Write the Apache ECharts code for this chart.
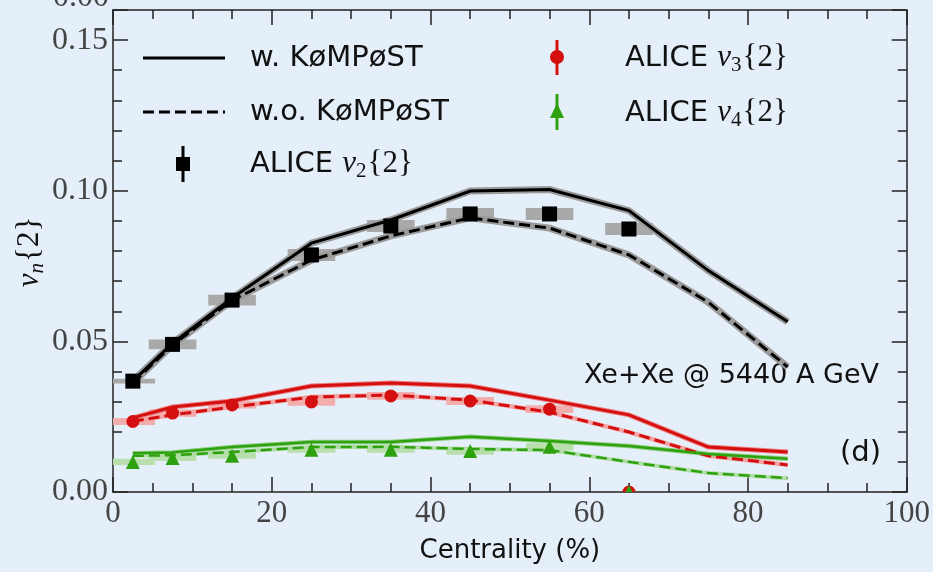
<!DOCTYPE html>
<html>
<head>
<meta charset="utf-8">
<script src="https://cdn.jsdelivr.net/npm/echarts@6/dist/echarts.min.js"></script>
<style>
html,body{margin:0;padding:0;background:#e5effa;}
#chart{width:933px;height:572px;}
</style>
</head>
<body>
<div id="chart"></div>
<script>
// ---- data ----
const centrality = [2.5, 7.5, 15, 25, 35, 45, 55, 65, 75, 85];
const v2With    = [0.0368, 0.0494, 0.0644, 0.0826, 0.0903, 0.0999, 0.1004, 0.0934, 0.0735, 0.0565];
const v2Without = [0.0362, 0.0488, 0.0636, 0.0770, 0.0850, 0.0910, 0.0876, 0.0787, 0.0630, 0.0415];
const v3With    = [0.0246, 0.0282, 0.0302, 0.0352, 0.0362, 0.0352, 0.0305, 0.0256, 0.0149, 0.0133];
const v3Without = [0.0235, 0.0256, 0.0282, 0.0315, 0.0322, 0.0305, 0.0265, 0.0199, 0.0120, 0.0090];
const v4With    = [0.0129, 0.0131, 0.0149, 0.0166, 0.0166, 0.0183, 0.0169, 0.0153, 0.0126, 0.0110];
const v4Without = [0.0120, 0.0122, 0.0133, 0.0149, 0.0150, 0.0143, 0.0139, 0.0100, 0.0063, 0.0046];

const aliceX  = [2.5, 7.5, 15, 25, 35, 45, 55, 65];
const aliceV2 = [0.0368, 0.0490, 0.0637, 0.0787, 0.0883, 0.0923, 0.0923, 0.0873];
const aliceV3 = [0.0234, 0.0262, 0.0289, 0.0299, 0.0319, 0.0302, 0.0275, 0.0];
const aliceV4 = [0.0100, 0.0113, 0.0120, 0.0140, 0.0140, 0.0136, 0.0150, 0.0];
const sysHalfX  = [2.8, 3, 3, 3, 3, 3, 3, 3];
const sysV2 = [0.0008, 0.0016, 0.0018, 0.0020, 0.0020, 0.0020, 0.0020, 0.0020];
const sysV3 = [0.0012, 0.0012, 0.0012, 0.0013, 0.0013, 0.0013, 0.0013, 0.0];
const sysV4 = [0.0010, 0.0010, 0.0010, 0.0010, 0.0010, 0.0012, 0.0012, 0.0];

const xTicks = [0, 20, 40, 60, 80, 100];
const yTicks = [0.00, 0.05, 0.10, 0.15];

// ---- styling ----
const BLACK = '#000000', RED = '#d40f0f', GREEN = '#2ea10f';
const serif = 'Liberation Serif';
const sans = 'DejaVu Sans';

function pairs(xs, ys){ return xs.map((x,i)=>[x, ys[i]]); }

function lineSeries(ys, color, width, dashed, z){
  return {type:'line', data:pairs(centrality, ys), symbol:'none', z:z, silent:true,
    lineStyle:{color:color, width:width, type: dashed ? [11,5] : 'solid', cap:'butt', join:'miter'}};
}

function boxSeries(ys, hh, color){
  return {type:'custom', z:1, silent:true,
    data: aliceX.map((x,i)=>[x, ys[i], sysHalfX[i], hh[i]]),
    renderItem: function(params, api){
      const x = api.value(0), y = api.value(1), hw = api.value(2), h = api.value(3);
      if (h <= 0) return null;
      const p1 = api.coord([Math.max(0, x-hw), y+h]);
      const p2 = api.coord([x+hw, y-h]);
      return {type:'rect', shape:{x:p1[0], y:p1[1], width:p2[0]-p1[0], height:p2[1]-p1[1]}, style:{fill:color}};
    }};
}

const halfCircle = 'path://M0,10 A10,10 0 0 1 20,10 Z';
const halfTri = 'path://M0,10 L5,0 L10,10 Z';

function markerSeries(ys, symbol, size, color, z){
  return {type:'scatter', z:z, silent:true, clip:false,
    data: aliceX.map((x,i)=>{
      if (ys[i] === 0) {
        return symbol === 'circle'
          ? {value:[x, ys[i]], symbol:halfCircle, symbolSize:[13,6.5], symbolOffset:[0,-3.25]}
          : {value:[x, ys[i]], symbol:halfTri, symbolSize:[7,7], symbolOffset:[0,-3.5]};
      }
      return [x, ys[i]];
    }),
    symbol:symbol, symbolSize:size, itemStyle:{color:color, opacity:1}};
}

const mathRich = {
  s:{fontFamily:sans, fontSize:29, color:'#111'},
  v:{fontFamily:serif, fontStyle:'italic', fontSize:31, color:'#111'},
  sub:{fontFamily:serif, fontSize:21, color:'#111', verticalAlign:'bottom', padding:[15,1,0,0]},
  subi:{fontFamily:serif, fontStyle:'italic', fontSize:21, color:'#111', verticalAlign:'bottom', padding:[15,1,0,0]},
  b:{fontFamily:serif, fontSize:31, color:'#111'}
};
const mathFont = '31px "Liberation Serif"';

const chart = echarts.init(document.getElementById('chart'));
const axisCommon = {
  axisLine:{show:true, onZero:false, lineStyle:{color:'#222', width:1.5}},
  splitLine:{show:false},
  axisTick:{show:true, inside:true, length:15, lineStyle:{color:'#222', width:1.5}},
  minorTick:{show:true, length:9, lineStyle:{color:'#222', width:1.5}}
};

chart.setOption({
  backgroundColor:'#e5effa',
  animation:false,
  grid:{left:113, right:25, top:10, bottom:80},
  xAxis:[
    Object.assign({type:'value', min:0, max:100, interval:20, position:'bottom',
      name:'Centrality (%)', nameLocation:'middle', nameGap:46,
      nameTextStyle:{fontFamily:sans, fontSize:26, color:'#111'},
      axisLabel:{fontFamily:serif, fontSize:31, color:'#444', margin:6,
        formatter:(v)=> xTicks.includes(v) ? String(v) : ''}}, axisCommon,
      {minorTick:Object.assign({}, axisCommon.minorTick, {splitNumber:4})}),
    Object.assign({type:'value', min:0, max:100, interval:20, position:'top',
      axisLabel:{show:false}}, axisCommon,
      {minorTick:Object.assign({}, axisCommon.minorTick, {splitNumber:4})})
  ],
  yAxis:[
    Object.assign({type:'value', min:0, max:0.16, interval:0.05, position:'left',
      axisLabel:{fontFamily:serif, fontSize:32, color:'#444', margin:5,
        formatter:(v)=> yTicks.some(t=>Math.abs(t-v)<1e-9) ? v.toFixed(2) : ''}}, axisCommon,
      {minorTick:Object.assign({}, axisCommon.minorTick, {splitNumber:5})}),
    Object.assign({type:'value', min:0, max:0.16, interval:0.05, position:'right',
      axisLabel:{show:false}}, axisCommon,
      {minorTick:Object.assign({}, axisCommon.minorTick, {splitNumber:5})})
  ],
  graphic:[
    // clipped label at top-left
    {type:'text', left:53, top:-18, style:{text:'0.00', font:'32px "Liberation Serif"', fill:'#444'}},
    // y axis name
    {type:'text', x:30, y:252, rotation:Math.PI/2, style:{
      text:'{v|v}{subi|n}{b|{2}}', font:mathFont, fill:'#111', align:'center', verticalAlign:'middle',
      rich:mathRich}},
    // legend: left column
    {type:'line', shape:{x1:143,y1:58,x2:225,y2:58}, style:{stroke:BLACK, lineWidth:3}},
    {type:'line', shape:{x1:143,y1:112,x2:225,y2:112}, style:{stroke:BLACK, lineWidth:3, lineDash:[11,5]}},
    {type:'line', shape:{x1:183,y1:146,x2:183,y2:182}, style:{stroke:BLACK, lineWidth:3}},
    {type:'rect', shape:{x:176,y:157,width:14,height:14}, style:{fill:BLACK}},
    {type:'text', x:250, y:58, style:{text:'w. KøMPøST', font:'29px "DejaVu Sans"', fill:'#111', verticalAlign:'middle'}},
    {type:'text', x:250, y:112, style:{text:'w.o. KøMPøST', font:'29px "DejaVu Sans"', fill:'#111', verticalAlign:'middle'}},
    {type:'text', x:250, y:164, style:{text:'{s|ALICE }{v|v}{sub|2}{b|{2}}', font:mathFont, fill:'#111', verticalAlign:'middle', rich:mathRich}},
    // legend: right column
    {type:'line', shape:{x1:557,y1:40,x2:557,y2:75}, style:{stroke:RED, lineWidth:3}},
    {type:'circle', shape:{cx:557,cy:57,r:7}, style:{fill:RED}},
    {type:'line', shape:{x1:557,y1:94,x2:557,y2:130}, style:{stroke:GREEN, lineWidth:3}},
    {type:'polygon', shape:{points:[[557,103],[564,118],[550,118]]}, style:{fill:GREEN}},
    {type:'text', x:625, y:58, style:{text:'{s|ALICE }{v|v}{sub|3}{b|{2}}', font:mathFont, fill:'#111', verticalAlign:'middle', rich:mathRich}},
    {type:'text', x:625, y:113, style:{text:'{s|ALICE }{v|v}{sub|4}{b|{2}}', font:mathFont, fill:'#111', verticalAlign:'middle', rich:mathRich}},
    // annotations
    {type:'text', right:54, y:376, style:{text:'Xe+Xe @ 5440 A GeV', font:'27px "DejaVu Sans"', fill:'#111', verticalAlign:'middle'}},
    {type:'text', right:52, y:453, style:{text:'(d)', font:'29px "DejaVu Sans"', fill:'#111', verticalAlign:'middle'}}
  ],
  series:[
    boxSeries(aliceV2, sysV2, '#a9a9a9'),
    boxSeries(aliceV3, sysV3, '#f2adad'),
    boxSeries(aliceV4, sysV4, '#b9e0ac'),
    // halos
    lineSeries(v2With, '#9a9a9a', 7, false, 2),
    lineSeries(v2Without, '#9a9a9a', 7, false, 2),
    lineSeries(v3With, '#ee8080', 5, false, 2),
    lineSeries(v3Without, '#f3a5a5', 4.5, false, 2),
    lineSeries(v4With, '#8fcf80', 4.5, false, 2),
    lineSeries(v4Without, '#b0dca5', 4, false, 2),
    // model lines
    lineSeries(v2With, BLACK, 3, false, 3),
    lineSeries(v2Without, BLACK, 3, true, 3),
    lineSeries(v3With, RED, 3, false, 3),
    lineSeries(v3Without, RED, 3, true, 3),
    lineSeries(v4With, GREEN, 2.5, false, 3),
    lineSeries(v4Without, GREEN, 2.5, true, 3),
    // data markers
    markerSeries(aliceV2, 'rect', 15, BLACK, 5),
    markerSeries(aliceV3, 'circle', 13, RED, 5),
    markerSeries(aliceV4, 'triangle', 14, GREEN, 6)
  ]
});
</script>
</body>
</html>
